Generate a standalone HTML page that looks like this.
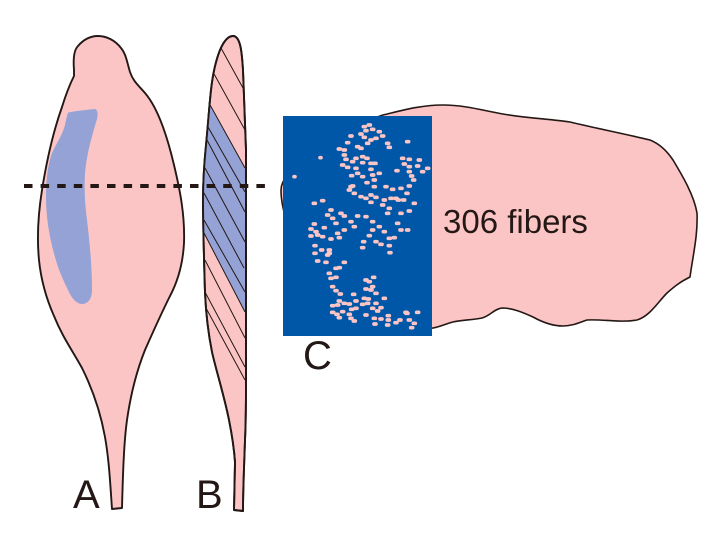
<!DOCTYPE html>
<html>
<head>
<meta charset="utf-8">
<style>
html,body{margin:0;padding:0;background:#fff;}
svg{display:block;}
text{font-family:"Liberation Sans",Arial,sans-serif;fill:#231815;}
</style>
</head>
<body>
<svg width="717" height="539" viewBox="0 0 717 539" xmlns="http://www.w3.org/2000/svg">
<!-- A -->
<path d="M74 70C73 58 74 50 78 46C84 39 91 36 98 36C106 36 115 40 121 48C126 54 127 62 130 72C133 81 138 85 145 93C157 107 166 131 174 165C180 190 185 215 184 243C183 262 179 279 170 296C160 316 153 332 145 350C137 370 131 392 127 420C124 442 123 470 122 508L112 509C110 480 109 460 105 437C101 415 94 392 82 368C72 350 62 336 54 316C46 298 41 280 39 260C37 240 38 215 42 190C46 165 52 135 62 107C66 94 70 84 74 76Z" fill="#fcc5c5" stroke="#231815" stroke-width="1.9" stroke-linejoin="round"/>
<path d="M68 113C66 112 94 109 95 109C98 110 98 114 97 119C92 136 87 152 85 173C84 190 85 205 87 220C90 245 92 268 92 290C92 300 87 304 82 304C76 304 71 297 68 290C64 282 61 275 58 267C51 245 46 222 46 197C46 178 48 165 52 153C57 142 62 136 65 125C66 120 67 115 68 113Z" fill="#94a2d6"/>
<!-- B -->
<path d="M233 36C227 36 223 43 220 50C216 60 213 72 211 90C209 108 208 125 206 145C204 165 203 180 203 200C203 225 204 260 205 293C206 315 208 332 212 352C216 370 224 395 229 420C232 435 234 448 235 462L234 510L243 511C243 490 244 470 245 440C246 420 246 400 246 380L246 150C245 120 244 90 243 70C242 55 241 36 233 36Z" fill="#fcc5c5" stroke="#231815" stroke-width="1.9" stroke-linejoin="round"/>
<path d="M209 103L245 168L245 312L204 233L203 200C203 180 204 165 206 145C207 128 208 115 209 103Z" fill="#94a2d6"/>
<path d="M233 36C227 36 223 43 220 50C216 60 213 72 211 90C209 108 208 125 206 145C204 165 203 180 203 200C203 225 204 260 205 293C206 315 208 332 212 352C216 370 224 395 229 420C232 435 234 448 235 462L234 510L243 511C243 490 244 470 245 440C246 420 246 400 246 380L246 150C245 120 244 90 243 70C242 55 241 36 233 36Z" fill="none" stroke="#231815" stroke-width="1.9" stroke-linejoin="round"/>
<g stroke="#231815" stroke-width="1" fill="none">
<path d="M221 48L243 88M213 72L245 130M209 103L245 168M208 127L245 192M207 140L245 212M205 168L245 242M204 193L244 268M204 220L245 292M204 233L245 312M205 260L245 338M205 292L245 367M206 308L245 380"/>
</g>
<!-- C muscle section -->
<path d="M281 190C281 180 290 170 310 155C340 135 360 122 383 115C400 111 420 105 443 105C465 105 485 111 503 114C525 118 550 119 570 122C595 128 625 134 650 140C660 144 667 151 673 160C682 175 694 195 697 213C698 235 693 255 690 277C680 282 675 286 667 293C658 302 650 316 637 320C620 323 603 319 587 320C578 323 572 326 563 326C552 326 542 322 533 317C522 312 512 308 502 308C494 309 490 316 482 318C472 320 462 320 453 322C445 324 440 327 433 328C410 333 390 330 360 320C320 300 281 230 281 190Z" fill="#fcc5c5" stroke="#231815" stroke-width="1.6" stroke-linejoin="round"/>
<!-- dashed line -->
<path d="M24 186H267" stroke="#231815" stroke-width="4" stroke-dasharray="8.5 8.1" fill="none"/>
<!-- Panel -->
<rect x="283" y="116" width="149" height="220" fill="#0057a8"/>
<g fill="none" stroke="#fcc5c5" stroke-width="11" stroke-linecap="round" transform="translate(280,110) scale(0.3333)">
<path d="M250 50h6M265 45h6M255 62h6M275 58h6M295 65h6M240 72h6M250 82h6M305 78h6M320 100h6M325 112h6M270 90h6M285 85h6M260 100h6M230 110h6M240 115h6M210 78h6M200 98h6M175 117h6M190 120h6M190 135h6M195 148h6M215 155h6M225 145h6M245 140h6M258 145h6M245 158h6M270 160h6M282 160h6M185 165h6M200 172h6M225 175h6M270 178h6M230 190h6M245 200h6M212 197h6M295 190h6M275 195h6M280 210h6M280 230h6M258 218h6M210 230h6M205 240h6M220 250h6M215 228h6M240 260h6M255 265h6M270 255h6M285 262h6M270 277h6M315 230h6M335 238h6M360 235h6M378 250h6M385 228h6M348 182h6M380 95h6M365 145h6M385 148h6M415 150h6M370 162h6M385 170h6M410 168h6M385 185h6M392 198h6M440 175h6M425 185h6M398 210h6M120 143h3M42 200h3M100 280h6M125 272h6M345 265h6M352 270h6M330 265h6M310 270h6M305 285h6M325 295h6M320 310h6M368 270h6M400 280h6M385 303h6M360 310h6M150 300h6M140 315h6M155 325h6M180 310h6M190 318h6M230 318h6M255 320h6M275 335h6M210 335h6M165 340h6M350 340h6M100 342h6"/>
</g>
<g fill="none" stroke="#fcc5c5" stroke-width="11" stroke-linecap="round" transform="translate(280,225) scale(0.3333)">
<path d="M90 12h6M105 20h6M130 8h6M90 33h6M125 35h6M150 42h6M175 38h6M170 25h6M190 15h6M220 5h6M110 30h6M275 15h6M295 5h6M310 20h6M265 32h6M285 50h6M300 58h6M248 50h6M245 68h6M325 40h6M340 38h6M325 62h6M327 83h6M360 15h6M380 15h6M102 62h6M102 85h6M122 75h6M145 75h6M145 85h6M140 90h6M110 108h6M135 112h6M190 112h6M175 128h6M165 130h6M145 145h6M150 160h6M165 157h6M155 185h6M165 197h6M178 207h6M218 208h6M225 228h6M175 228h6M190 235h6M205 237h6M155 242h6M170 240h6M155 262h6M168 268h6M185 260h6M175 278h6M205 268h6M210 280h6M220 288h6M225 250h6M212 253h6M250 220h6M262 222h6M245 238h6M260 235h6M275 250h6M290 258h6M285 235h6M300 248h6M310 220h6M285 205h6M255 165h6M265 170h6M278 157h6M275 185h6M255 192h6M270 195h6M255 270h6M280 280h6M282 297h6M300 282h6M322 272h6M322 285h6M320 300h6M345 293h6M357 285h6M375 262h6M385 285h6M410 262h6M400 295h6M392 308h6M378 265h6"/>
</g>
<!-- Labels -->
<text x="73" y="508" font-size="40">A</text>
<text x="196" y="508" font-size="40">B</text>
<text x="303" y="369" font-size="40">C</text>
<text x="443" y="233" font-size="33">306 fibers</text>
</svg>
</body>
</html>
